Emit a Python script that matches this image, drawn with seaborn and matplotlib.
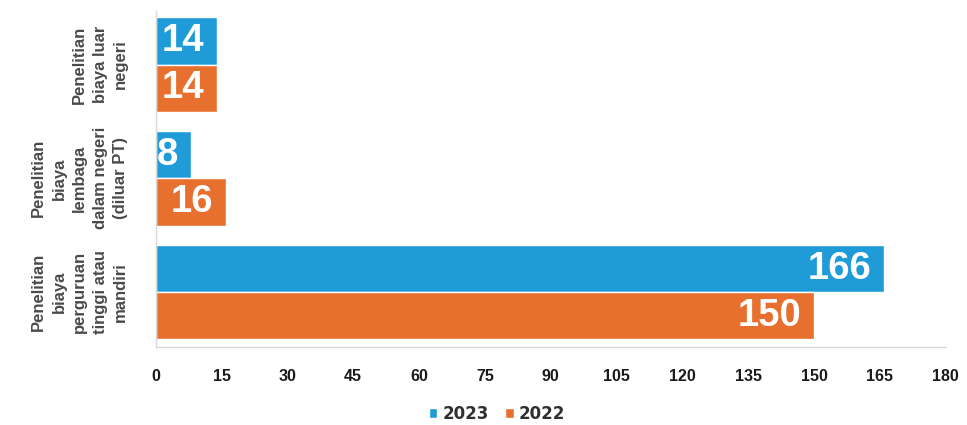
import matplotlib
matplotlib.use("Agg")
import matplotlib.pyplot as plt
import seaborn as sns
import pandas as pd

categories = [
    "Penelitian\nbiaya luar\nnegeri",
    "Penelitian\nbiaya\nlembaga\ndalam negeri\n(diluar PT)",
    "Penelitian\nbiaya\nperguruan\ntinggi atau\nmandiri",
]
series_names = ["2023", "2022"]
values_2023 = [14, 8, 166]
values_2022 = [14, 16, 150]
x_ticks = list(range(0, 181, 15))

colors = {"2023": "#1F9BD7", "2022": "#E8702E"}

df = pd.DataFrame({
    "Kategori": categories * 2,
    "Tahun": ["2023"] * 3 + ["2022"] * 3,
    "Jumlah": values_2023 + values_2022,
})

sns.set_theme(style="white")
plt.rcParams["font.family"] = ["Liberation Sans Narrow", "Liberation Sans", "DejaVu Sans"]

fig = plt.figure(figsize=(9.67, 4.25), dpi=100)
ax = fig.add_axes([0.161, 0.184, 0.817, 0.79])

sns.barplot(data=df, y="Kategori", x="Jumlah", hue="Tahun", hue_order=series_names,
            order=categories, palette=colors, orient="h", width=0.83, gap=0,
            saturation=1, ax=ax, legend=True)

for cont in ax.containers:
    texts = ax.bar_label(cont, padding=-9, color="white", fontsize=27.5,
                         fontweight="bold", family=["Liberation Sans", "DejaVu Sans"])
    for t in texts:
        t.set_ha("right")

ax.set_xlim(0, 180)
ax.set_ylim(2.48, -0.47)
ax.set_xticks(x_ticks)
ax.set_xticklabels([str(v) for v in x_ticks], fontsize=11.5, fontweight="bold", color="#1a1a1a")
ax.set_yticks(range(len(categories)))
ax.set_yticklabels(categories, rotation=90, fontsize=12, fontweight="bold", color="#4a4a4a",
                   ha="right", va="center", multialignment="center", linespacing=1.45)
ax.tick_params(axis="y", pad=20, length=0)
ax.tick_params(axis="x", pad=16, length=0)
ax.set_xlabel("")
ax.set_ylabel("")

for s in ["top", "right"]:
    ax.spines[s].set_visible(False)
for s in ["left", "bottom"]:
    ax.spines[s].set_color("#d9d9d9")
    ax.spines[s].set_linewidth(1)

leg = ax.legend(loc="center", bbox_to_anchor=(0.514, 0.026), bbox_transform=fig.transFigure,
                ncol=2, frameon=False, fontsize=12, handlelength=0.5, handleheight=0.5,
                handletextpad=0.3, columnspacing=1.0, borderpad=0.2,
                prop={"family": ["DejaVu Sans"], "weight": "bold", "size": 12})
for t in leg.get_texts():
    t.set_color("#303030")

fig.savefig("out.png", dpi=100)
